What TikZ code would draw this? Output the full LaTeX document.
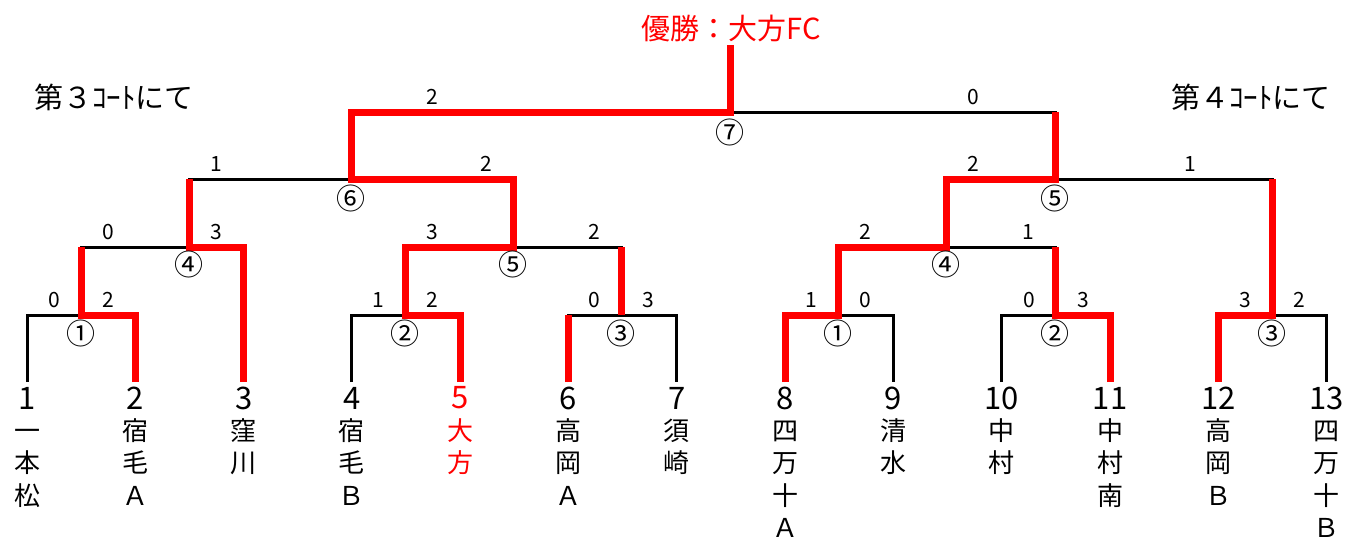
\documentclass[tikz,border=0pt]{standalone}
\usepackage{fontspec}
\setmainfont{Noto Sans CJK JP}

\begin{document}
\begin{tikzpicture}[x=1pt, y=-1pt,
    bline/.style={line width=3pt, line join=miter},
    rline/.style={red, line width=7pt, line join=miter},
    score/.style={font=\fontsize{21}{21}\selectfont, inner sep=0pt},
    circled/.style={font=\fontsize{29}{29}\selectfont, inner sep=0pt},
    num/.style={font=\fontsize{31}{31}\selectfont, inner sep=0pt},
    team/.style={font=\fontsize{26}{32.5}\selectfont, align=center, anchor=north, inner sep=0pt},
    title/.style={font=\fontsize{29}{29}\selectfont, inner sep=0pt}]
    \useasboundingbox (0,0) rectangle (1350,539);
    % leaves
    \foreach \i in {1,...,13}
        \coordinate (b\i) at ({27+(\i-1)*108.3},382);
    % matches, 3rd court
    \coordinate (mA) at (81,315);
    \coordinate (mB) at (405,315);
    \coordinate (mC) at (621,315);
    \coordinate (mD) at (189,247);
    \coordinate (mE) at (513,247);
    \coordinate (mF) at (351,179);
    \coordinate (mG) at (730,112);
    % matches, 4th court
    \coordinate (nA) at (838,315);
    \coordinate (nB) at (1055,315);
    \coordinate (nC) at (1272,315);
    \coordinate (nD) at (946,247);
    \coordinate (nE) at (1055,179);
    \coordinate (top) at (730,45);
    % bracket
    \draw[bline] (b1) |- (mA) -| (b2);
    \draw[bline] (b4) |- (mB) -| (b5);
    \draw[bline] (b6) |- (mC) -| (b7);
    \draw[bline] (b8) |- (nA) -| (b9);
    \draw[bline] (b10) |- (nB) -| (b11);
    \draw[bline] (b12) |- (nC) -| (b13);
    \draw[bline] (mA) |- (mD) -| (b3);
    \draw[bline] (mB) |- (mE) -| (mC);
    \draw[bline] (nA) |- (nD) -| (nB);
    \draw[bline] (mD) |- (mF) -| (mE);
    \draw[bline] (nD) |- (nE) -| (nC);
    \draw[bline] (mF) |- (mG) -| (nE);
    % winners
    \draw[rline] (b2) |- (mA) -- (mA |- mD);
    \draw[rline] (b3) |- (mD) -- (mD |- mF);
    \draw[rline] (b5) |- (mB) |- (mE) |- (mF) |- (mG) -- (top);
    \draw[rline] (b6) -- (b6 |- mC);
    \draw[rline] (mC) -- (mC |- mE);
    \draw[rline] (b8) |- (nA) |- (nD) |- (nE) -- (nE |- mG);
    \draw[rline] (b11) |- (nB) -- (nB |- nD);
    \draw[rline] (b12) |- (nC) -- (nC |- nE);
    % scores
    \foreach \x/\y/\s [count=\i] in {54/300/0, 108/300/2, 378/300/1, 432/300/2,
        594/300/0, 648/300/3, 811/300/1, 865/300/0, 1029/300/0, 1083/300/3,
        1245/300/3, 1299/300/2, 108/232/0, 216/232/3, 432/232/3, 594/232/2,
        865/232/2, 1028/232/1, 216/164/1, 486/164/2, 973/164/2, 1190/164/1,
        432/97/2, 973/97/0}
        \node[score] (s\i) at (\x,\y) {\s};
    % match numbers
    \foreach \j/\t/\d in {mA/①/18, mB/②/18, mC/③/18, nA/①/18, nB/②/18, nC/③/18,
        mD/④/17, mE/⑤/17, nD/④/17, mF/⑥/19, nE/⑤/19, mG/⑦/20}
        \node[circled] (c\j) at ([yshift=-\d pt]\j) {\t};
    % teams
    \foreach \name/\col [count=\i] in {{一\\本\\松}/black, {宿\\毛\\Ａ}/black,
        {窪\\川}/black, {宿\\毛\\Ｂ}/black, {大\\方}/red, {高\\岡\\Ａ}/black,
        {須\\崎}/black, {四\\万\\十\\Ａ}/black, {清\\水}/black, {中\\村}/black,
        {中\\村\\南}/black, {高\\岡\\Ｂ}/black, {四\\万\\十\\Ｂ}/black}
    {
        \node[num, \col] (t\i) at ([yshift=-16pt]b\i) {\i};
        \node[team, \col] (n\i) at ([yshift=-36pt]b\i) {\vphantom{宿}\name};
    }
    % titles
    \node[title] (court3) at (114,97) {第３ｺｰﾄにて};
    \node[title] (court4) at (1251,97) {第４ｺｰﾄにて};
    \node[title, red] (champ) at (731,28) {優勝：大方FC};
\end{tikzpicture}
\end{document}
